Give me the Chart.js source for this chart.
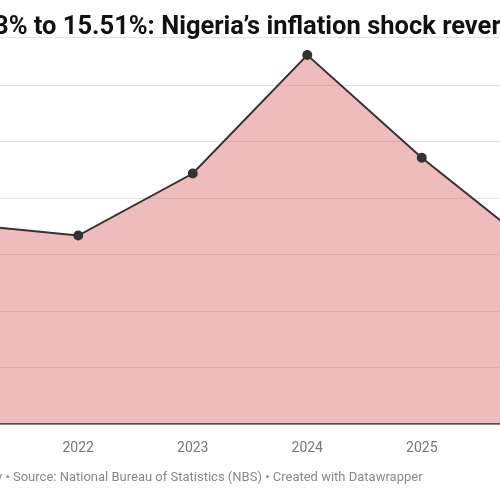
<!DOCTYPE html>
<html><head><meta charset="utf-8">
<script src="https://cdn.jsdelivr.net/npm/chart.js@4"></script>
<style>
body{margin:0;background:#fff;}
#wrap{position:relative;width:500px;height:500px;overflow:hidden;font-family:Roboto,sans-serif;}
#title{position:absolute;left:-6px;top:10px;white-space:nowrap;font-weight:700;font-size:25.5px;color:#111;}
#foot{position:absolute;left:-4px;top:469px;white-space:nowrap;font-size:13px;color:#888;}
#cv{position:absolute;left:-60px;top:0;}
</style></head><body>
<div id="wrap">
<canvas id="cv" width="620" height="470"></canvas>
<div id="title">3% to 15.51%: Nigeria’s inflation shock reverses</div>
<div id="foot">y • Source: National Bureau of Statistics (NBS) • Created with Datawrapper</div>
</div>
<script>
const years = ['2021','2022','2023','2024','2025','2026'];
const inflation = [17.7, 16.7, 22.2, 32.7, 23.6, 15.51];
new Chart(document.getElementById('cv'), {
  type: 'line',
  data: { labels: years, datasets: [{
    data: inflation, fill: 'origin', backgroundColor: 'rgba(214,95,95,0.42)',
    borderColor: '#333', borderWidth: 2, tension: 0,
    pointRadius: 4, pointBackgroundColor: '#333', pointBorderColor: '#333'
  }]},
  options: {
    responsive: false, animation: false,
    plugins: { legend: {display:false}, tooltip:{enabled:false} },
    layout: { padding: { left: 8, right: 2, top: 37, bottom: 0 } },
    scales: {
      x: { offset: false, grid: {display:false}, border: {color:'#333', width:1.5},
           ticks: { color:'#777', font:{family:'Roboto', size:14}, padding: 8 },
           afterFit: s => { s.height = 46; } },
      y: { min: 0, max: 34.3, position:'left',
           ticks: { display:false, stepSize: 5 },
           grid: { color:'#e2e2e2', drawTicks:false },
           border: { display:false },
           afterFit: s => { s.width = 0; } }
    }
  }
});
</script>
</body></html>
